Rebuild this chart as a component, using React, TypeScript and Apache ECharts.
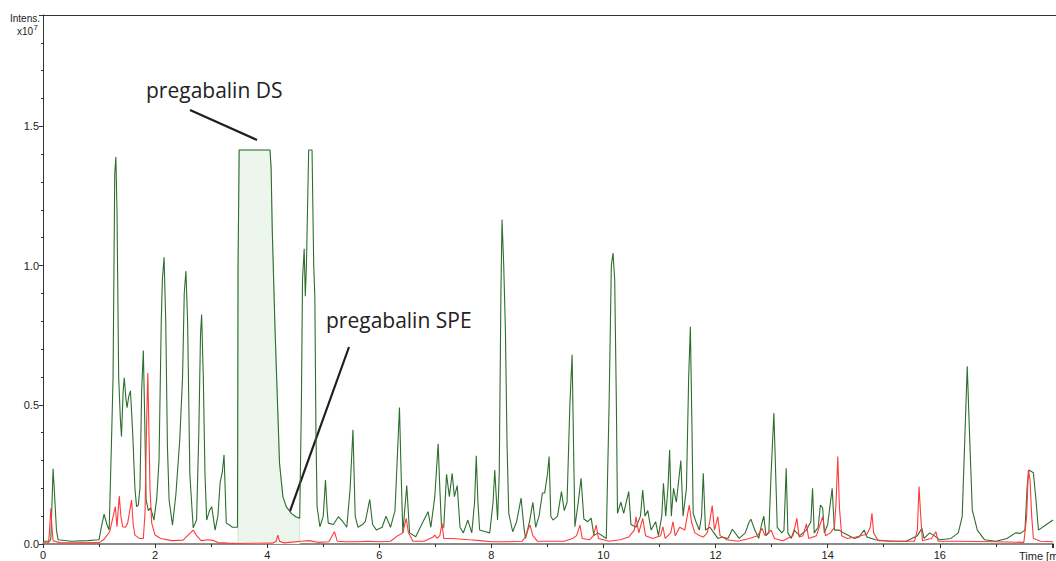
import React, { useEffect, useRef } from "react";
import * as echarts from "echarts";

// Time axis ticks (min) and intensity ticks (x10^7)
const xTicks = [0, 2, 4, 6, 8, 10, 12, 14, 16];
const yTicks = [0.0, 0.5, 1.0, 1.5];

// Green trace: pregabalin DS chromatogram [time (min), intensity (x10^7)]
const greenTrace: [number, number][] = [
  [0, 0.01], [0.12, 0.01], [0.14, 0.02], [0.18, 0.27], [0.2, 0.2], [0.24, 0.05], [0.27, 0.015],
  [0.5, 0.01], [0.8, 0.012], [1.0, 0.015], [1.04, 0.06], [1.09, 0.107], [1.14, 0.07], [1.18, 0.05],
  [1.22, 0.35], [1.25, 0.6], [1.28, 1.33], [1.3, 1.39], [1.32, 1.2], [1.35, 0.6], [1.38, 0.45],
  [1.4, 0.386], [1.43, 0.55], [1.45, 0.597], [1.48, 0.52], [1.5, 0.49], [1.53, 0.53], [1.56, 0.55],
  [1.6, 0.4], [1.64, 0.2], [1.67, 0.134], [1.7, 0.14], [1.73, 0.2], [1.76, 0.55], [1.79, 0.695],
  [1.81, 0.5], [1.84, 0.158], [1.88, 0.12], [1.92, 0.13], [1.98, 0.086], [2.03, 0.165], [2.07, 0.3],
  [2.11, 0.8], [2.13, 0.95], [2.16, 1.03], [2.19, 0.8], [2.22, 0.35], [2.25, 0.158], [2.31, 0.068],
  [2.37, 0.176], [2.44, 0.374], [2.49, 0.6], [2.52, 0.9], [2.55, 0.98], [2.58, 0.8], [2.62, 0.25],
  [2.68, 0.058], [2.74, 0.086], [2.78, 0.4], [2.81, 0.75], [2.83, 0.824], [2.86, 0.6], [2.89, 0.25],
  [2.92, 0.086], [2.97, 0.12], [3.01, 0.134], [3.07, 0.05], [3.12, 0.1], [3.16, 0.22], [3.2, 0.26],
  [3.23, 0.32], [3.25, 0.2], [3.27, 0.075], [3.33, 0.068], [3.38, 0.06], [3.43, 0.06], [3.47, 0.06],
  [3.48, 1.0], [3.5, 1.415], [4.05, 1.415], [4.07, 1.35], [4.09, 1.13], [4.14, 0.77], [4.18, 0.53],
  [4.22, 0.29], [4.28, 0.17], [4.34, 0.134], [4.43, 0.11], [4.51, 0.098], [4.58, 0.093], [4.61, 0.5],
  [4.63, 0.95], [4.66, 1.06], [4.68, 0.89], [4.7, 1.0], [4.74, 1.415], [4.8, 1.415], [4.83, 1.0],
  [4.85, 0.89], [4.87, 0.4], [4.89, 0.134], [4.94, 0.062], [5.0, 0.1], [5.04, 0.23], [5.07, 0.12],
  [5.09, 0.075], [5.18, 0.07], [5.27, 0.098], [5.35, 0.08], [5.42, 0.06], [5.48, 0.2], [5.53, 0.41],
  [5.57, 0.1], [5.62, 0.06], [5.7, 0.07], [5.75, 0.08], [5.83, 0.16], [5.88, 0.07], [5.95, 0.05],
  [6.05, 0.06], [6.12, 0.1], [6.2, 0.06], [6.28, 0.12], [6.33, 0.35], [6.36, 0.49], [6.39, 0.25],
  [6.42, 0.04], [6.49, 0.21], [6.54, 0.04], [6.65, 0.026], [6.78, 0.08], [6.87, 0.116], [6.92, 0.06],
  [6.99, 0.17], [7.05, 0.36], [7.08, 0.2], [7.11, 0.062], [7.15, 0.06], [7.2, 0.25], [7.25, 0.17],
  [7.3, 0.254], [7.34, 0.17], [7.39, 0.21], [7.44, 0.06], [7.5, 0.04], [7.58, 0.086], [7.65, 0.04],
  [7.7, 0.15], [7.73, 0.317], [7.76, 0.15], [7.79, 0.05], [7.88, 0.045], [7.97, 0.04], [8.03, 0.15],
  [8.06, 0.266], [8.11, 0.086], [8.14, 0.25], [8.17, 0.9], [8.19, 1.165], [8.22, 1.0], [8.25, 0.77],
  [8.28, 0.35], [8.31, 0.11], [8.38, 0.044], [8.45, 0.08], [8.53, 0.165], [8.58, 0.06], [8.61, 0.02],
  [8.68, 0.08], [8.74, 0.15], [8.79, 0.06], [8.85, 0.1], [8.91, 0.183], [8.95, 0.183], [9.0, 0.25],
  [9.03, 0.314], [9.06, 0.1], [9.1, 0.086], [9.18, 0.1], [9.25, 0.188], [9.3, 0.12], [9.35, 0.15],
  [9.4, 0.5], [9.44, 0.68], [9.47, 0.3], [9.49, 0.062], [9.55, 0.15], [9.6, 0.236], [9.65, 0.09],
  [9.72, 0.08], [9.78, 0.093], [9.83, 0.03], [9.9, 0.04], [10.05, 0.02], [10.1, 0.5], [10.14, 1.0],
  [10.17, 1.045], [10.2, 0.95], [10.23, 0.5], [10.25, 0.11], [10.31, 0.15], [10.36, 0.11], [10.45, 0.188],
  [10.49, 0.07], [10.58, 0.06], [10.66, 0.1], [10.7, 0.194], [10.74, 0.1], [10.79, 0.12], [10.85, 0.05],
  [10.93, 0.08], [10.98, 0.03], [11.04, 0.1], [11.07, 0.218], [11.11, 0.1], [11.15, 0.2], [11.18, 0.338],
  [11.21, 0.1], [11.25, 0.2], [11.3, 0.15], [11.38, 0.3], [11.42, 0.1], [11.48, 0.2], [11.52, 0.6],
  [11.55, 0.78], [11.58, 0.4], [11.6, 0.11], [11.65, 0.08], [11.71, 0.05], [11.75, 0.1], [11.78, 0.254],
  [11.82, 0.05], [11.9, 0.06], [11.97, 0.04], [12.04, 0.02], [12.12, 0.025], [12.22, 0.02], [12.3, 0.053],
  [12.42, 0.02], [12.53, 0.04], [12.6, 0.08], [12.63, 0.089], [12.7, 0.05], [12.77, 0.02], [12.82, 0.07],
  [12.86, 0.1], [12.9, 0.03], [12.95, 0.04], [12.99, 0.25], [13.04, 0.47], [13.08, 0.2], [13.1, 0.06],
  [13.18, 0.04], [13.22, 0.05], [13.26, 0.272], [13.29, 0.04], [13.35, 0.02], [13.4, 0.05], [13.5, 0.03],
  [13.62, 0.05], [13.7, 0.08], [13.73, 0.2], [13.76, 0.04], [13.83, 0.06], [13.87, 0.14], [13.91, 0.13],
  [13.94, 0.04], [14.0, 0.07], [14.08, 0.2], [14.12, 0.05], [14.2, 0.05], [14.28, 0.04], [14.38, 0.03],
  [14.48, 0.02], [14.56, 0.025], [14.65, 0.05], [14.7, 0.025], [14.85, 0.015], [15.1, 0.01], [15.4, 0.01],
  [15.5, 0.02], [15.6, 0.03], [15.68, 0.056], [15.72, 0.02], [15.82, 0.04], [15.9, 0.03], [16.0, 0.015],
  [16.2, 0.02], [16.33, 0.04], [16.4, 0.098], [16.45, 0.4], [16.49, 0.638], [16.53, 0.4], [16.58, 0.122],
  [16.67, 0.05], [16.8, 0.015], [17.0, 0.01], [17.2, 0.02], [17.35, 0.04], [17.44, 0.038], [17.52, 0.05],
  [17.56, 0.21], [17.59, 0.266], [17.67, 0.256], [17.72, 0.15], [17.76, 0.05], [17.89, 0.068], [18.02, 0.086],
];

// Integrated pregabalin DS peak (shaded region)
const dsPeakArea: [number, number][] = [
  [3.48, 0], [3.48, 1.0], [3.5, 1.415], [4.05, 1.415], [4.07, 1.35], [4.09, 1.13], [4.14, 0.77],
  [4.18, 0.53], [4.22, 0.29], [4.28, 0.17], [4.34, 0.134], [4.43, 0.11], [4.51, 0.098], [4.58, 0.093], [4.58, 0],
];

// Red trace: pregabalin SPE chromatogram
const redTrace: [number, number][] = [
  [0, 0.004], [0.1, 0.005], [0.12, 0.06], [0.14, 0.128], [0.16, 0.06], [0.18, 0.012], [0.3, 0.005],
  [0.6, 0.004], [1.0, 0.005], [1.08, 0.015], [1.19, 0.044], [1.25, 0.098], [1.29, 0.134], [1.32, 0.062],
  [1.36, 0.172], [1.39, 0.1], [1.42, 0.062], [1.47, 0.06], [1.51, 0.075], [1.54, 0.11], [1.58, 0.158],
  [1.61, 0.07], [1.64, 0.032], [1.72, 0.02], [1.79, 0.02], [1.82, 0.11], [1.85, 0.45], [1.87, 0.614],
  [1.89, 0.4], [1.91, 0.194], [1.94, 0.074], [2.0, 0.032], [2.1, 0.02], [2.3, 0.012], [2.5, 0.014],
  [2.62, 0.038], [2.68, 0.05], [2.74, 0.03], [2.82, 0.012], [2.95, 0.015], [3.05, 0.012], [3.12, 0.005],
  [3.3, 0.003], [3.5, 0.002], [4.1, 0.003], [4.16, 0.01], [4.19, 0.032], [4.22, 0.01], [4.3, 0.004],
  [4.4, 0.006], [4.6, 0.01], [4.75, 0.012], [4.9, 0.006], [5.1, 0.008], [5.2, 0.044], [5.25, 0.01],
  [5.4, 0.008], [5.6, 0.008], [5.8, 0.01], [6.0, 0.008], [6.2, 0.01], [6.33, 0.03], [6.42, 0.04],
  [6.48, 0.092], [6.52, 0.04], [6.6, 0.01], [6.8, 0.01], [6.96, 0.025], [6.99, 0.032], [7.03, 0.02],
  [7.08, 0.03], [7.12, 0.074], [7.15, 0.02], [7.3, 0.02], [7.6, 0.015], [7.8, 0.012], [8.0, 0.008],
  [8.3, 0.008], [8.55, 0.01], [8.62, 0.03], [8.65, 0.05], [8.69, 0.068], [8.74, 0.03], [8.82, 0.01],
  [9.0, 0.01], [9.3, 0.01], [9.45, 0.02], [9.52, 0.03], [9.58, 0.068], [9.62, 0.02], [9.75, 0.015],
  [9.82, 0.03], [9.87, 0.068], [9.91, 0.02], [10.1, 0.01], [10.3, 0.015], [10.45, 0.025], [10.55, 0.05],
  [10.58, 0.098], [10.63, 0.04], [10.7, 0.092], [10.75, 0.03], [10.88, 0.02], [11.02, 0.03], [11.06, 0.062],
  [11.1, 0.02], [11.2, 0.04], [11.24, 0.08], [11.28, 0.03], [11.36, 0.06], [11.45, 0.05], [11.53, 0.14],
  [11.57, 0.08], [11.63, 0.04], [11.72, 0.03], [11.78, 0.025], [11.85, 0.04], [11.89, 0.074], [11.94, 0.138],
  [11.98, 0.05], [12.04, 0.098], [12.08, 0.03], [12.2, 0.015], [12.4, 0.01], [12.6, 0.02], [12.75, 0.03],
  [12.83, 0.056], [12.88, 0.03], [12.99, 0.05], [13.05, 0.02], [13.2, 0.012], [13.38, 0.03], [13.45, 0.092],
  [13.49, 0.025], [13.56, 0.03], [13.62, 0.072], [13.66, 0.02], [13.8, 0.03], [13.91, 0.098], [13.96, 0.03],
  [14.05, 0.04], [14.12, 0.06], [14.15, 0.15], [14.18, 0.314], [14.21, 0.13], [14.25, 0.03], [14.35, 0.02],
  [14.5, 0.025], [14.7, 0.035], [14.76, 0.06], [14.79, 0.11], [14.82, 0.04], [14.9, 0.012], [15.2, 0.01],
  [15.55, 0.01], [15.6, 0.05], [15.63, 0.206], [15.66, 0.1], [15.69, 0.012], [15.85, 0.02], [15.93, 0.044],
  [15.97, 0.01], [16.3, 0.01], [17.0, 0.008], [17.5, 0.006], [17.55, 0.1], [17.58, 0.266], [17.61, 0.23],
  [17.64, 0.1], [17.67, 0.02], [17.8, 0.01], [18.02, 0.008],
];

const annotations = ["pregabalin DS", "pregabalin SPE"];
const axisTitle = ["Intens.", "x10", "7"];
const xAxisTitle = "Time [min]";

const X_MIN = 0;
const X_MAX = 18.02;
const Y_MIN = 0;
const Y_MAX = 1.9;

export default function App() {
  const ref = useRef<HTMLDivElement>(null);

  useEffect(() => {
    if (!ref.current) return;
    const chart = echarts.init(ref.current, undefined, { renderer: "svg" });
    const labelFont = "'Liberation Sans', Arial, sans-serif";
    const annFont = "'Open Sans', sans-serif";

    chart.setOption({
      animation: false,
      grid: { left: 43, right: 0, top: 15, bottom: 17, containLabel: false },
      xAxis: {
        type: "value",
        min: X_MIN,
        max: X_MAX,
        interval: 2,
        axisLine: { show: true, onZero: false, lineStyle: { color: "#8a8a8a", width: 2 } },
        axisTick: { show: true, inside: false, length: 4, lineStyle: { color: "#333" } },
        minorTick: { show: true, splitNumber: 2, length: 3, lineStyle: { color: "#333" } },
        splitLine: { show: false },
        minorSplitLine: { show: false },
        axisLabel: {
          margin: 5,
          color: "#222",
          fontFamily: labelFont,
          fontSize: 11,
          formatter: (v: number) => (xTicks.includes(v) ? String(v) : ""),
        },
      },
      yAxis: {
        type: "value",
        min: Y_MIN,
        max: Y_MAX,
        interval: 0.5,
        axisLine: { show: true, lineStyle: { color: "#333", width: 1 } },
        axisTick: { show: true, inside: false, length: 4, lineStyle: { color: "#333" } },
        minorTick: { show: true, splitNumber: 5, length: 2, lineStyle: { color: "#333" } },
        splitLine: { show: false },
        minorSplitLine: { show: false },
        axisLabel: {
          margin: 4,
          color: "#222",
          fontFamily: labelFont,
          fontSize: 11,
          formatter: (v: number) =>
            yTicks.some((t) => Math.abs(t - v) < 1e-6) ? v.toFixed(1) : "",
        },
      },
      series: [
        {
          type: "line",
          data: dsPeakArea,
          symbol: "none",
          lineStyle: { color: "#cfe5cf", width: 1 },
          areaStyle: { color: "#edf6ed", opacity: 1 },
          silent: true,
          z: 1,
        },
        {
          type: "line",
          data: greenTrace,
          symbol: "none",
          lineStyle: { color: "#2e6e2e", width: 1.1 },
          z: 2,
        },
        {
          type: "line",
          data: redTrace,
          symbol: "none",
          lineStyle: { color: "#ff3a3a", width: 1.1 },
          z: 3,
        },
      ],
      graphic: [
        {
          type: "line",
          shape: { x1: 43, y1: 15.5, x2: 1056, y2: 15.5 },
          style: { stroke: "#333", lineWidth: 1 },
          z: 10,
        },
        {
          type: "text",
          x: 40,
          y: 18,
          style: {
            text: axisTitle[0],
            fill: "#222",
            font: `10px ${labelFont}`,
            align: "right",
            verticalAlign: "middle",
          },
        },
        {
          type: "text",
          x: 33,
          y: 31,
          style: {
            text: axisTitle[1],
            fill: "#222",
            font: `10px ${labelFont}`,
            align: "right",
            verticalAlign: "middle",
          },
        },
        {
          type: "text",
          x: 33.5,
          y: 27.5,
          style: {
            text: axisTitle[2],
            fill: "#222",
            font: `8px ${labelFont}`,
            align: "left",
            verticalAlign: "middle",
          },
        },
        {
          type: "text",
          x: 1019,
          y: 556,
          style: {
            text: xAxisTitle,
            fill: "#222",
            font: `11px ${labelFont}`,
            align: "left",
            verticalAlign: "middle",
          },
        },
        {
          type: "text",
          x: 146,
          y: 90,
          style: {
            text: annotations[0],
            fill: "#222",
            font: `21px ${annFont}`,
            align: "left",
            verticalAlign: "middle",
          },
        },
        {
          type: "line",
          shape: { x1: 190, y1: 110, x2: 257, y2: 140 },
          style: { stroke: "#1e1e1e", lineWidth: 2.2 },
        },
        {
          type: "text",
          x: 326,
          y: 320,
          style: {
            text: annotations[1],
            fill: "#222",
            font: `21px ${annFont}`,
            align: "left",
            verticalAlign: "middle",
          },
        },
        {
          type: "line",
          shape: { x1: 349, y1: 347, x2: 285, y2: 525 },
          style: { stroke: "#1e1e1e", lineWidth: 2.2 },
        },
      ],
    });

    return () => chart.dispose();
  }, []);

  return (
    <div
      ref={ref}
      style={{ position: "fixed", left: 0, top: 0, width: 1056, height: 561, background: "#fff" }}
    />
  );
}
